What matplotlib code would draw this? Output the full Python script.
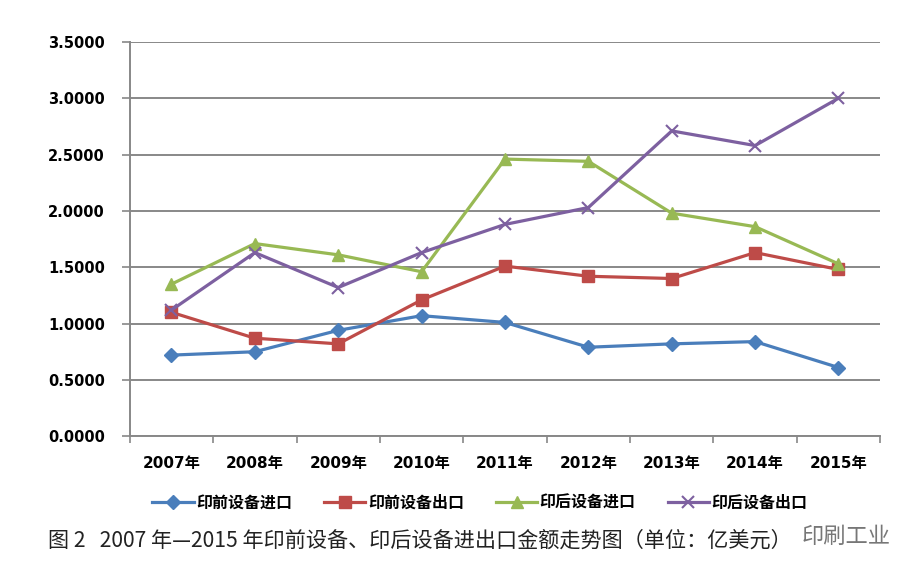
import matplotlib.pyplot as plt
import numpy as np

plt.rcParams['font.family'] = ['DejaVu Sans', 'Noto Sans CJK SC']

years = ['2007年', '2008年', '2009年', '2010年', '2011年', '2012年', '2013年', '2014年', '2015年']
pre_import = [0.72, 0.75, 0.94, 1.07, 1.01, 0.79, 0.82, 0.84, 0.61]
pre_export = [1.10, 0.87, 0.82, 1.21, 1.51, 1.42, 1.40, 1.63, 1.48]
post_import = [1.35, 1.71, 1.61, 1.46, 2.46, 2.44, 1.98, 1.86, 1.53]
post_export = [1.12, 1.63, 1.32, 1.63, 1.88, 2.03, 2.71, 2.58, 3.00]
names = ['印前设备进口', '印前设备出口', '印后设备进口', '印后设备出口']

fig = plt.figure(figsize=(9.14, 5.74), dpi=100)
ax = fig.add_axes([0.142, 0.240, 0.821, 0.687])

x = np.arange(len(years))
ax.plot(x, pre_import, color='#4a7ebb', lw=2.3, marker='D', ms=7, label=names[0])
ax.plot(x, pre_export, color='#be4b48', lw=2.3, marker='s', ms=8, label=names[1])
ax.plot(x, post_import, color='#98b954', lw=2.3, marker='^', ms=9, label=names[2])
ax.plot(x, post_export, color='#7d60a0', lw=2.3, marker='x', ms=9, mew=1.5, label=names[3])

# axes styling
ax.set_xlim(-0.5, len(years) - 0.5)
ax.set_ylim(0, 3.5)
ax.set_yticks(np.arange(0, 3.51, 0.5))
ax.set_yticklabels(['%.4f' % v for v in np.arange(0, 3.51, 0.5)], fontsize=10.5, fontweight='bold')
ax.set_xticks(x)
ax.set_xticklabels(years, fontsize=11, fontweight='bold')
ax.set_xticks(np.arange(-0.5, len(years)), minor=True)
ax.tick_params(axis='x', which='major', length=0, pad=14)
ax.tick_params(axis='x', which='minor', length=5, color='#888888', width=1.2)
ax.tick_params(axis='y', length=6, color='#888888', width=1.2, pad=12)
ax.grid(axis='y', color='#888888', lw=1.4)
ax.set_axisbelow(True)
for s in ['top', 'right']:
    ax.spines[s].set_visible(False)
for s in ['left', 'bottom']:
    ax.spines[s].set_color('#888888')
    ax.spines[s].set_linewidth(1.4)

fig.legend(loc='center', bbox_to_anchor=(0.525, 0.124), ncol=4, frameon=False,
           prop={'family': 'Noto Sans CJK SC', 'weight': 'bold', 'size': 11.5},
           handlelength=2.6, columnspacing=2.0, handletextpad=0.15)

# caption + watermark
fig.text(0.052, 0.058, '图 2   2007 年—2015 年印前设备、印后设备进出口金额走势图（单位：亿美元）',
         fontsize=15.2, family='Noto Sans CJK SC', color='#222222', va='center')
fig.text(0.877, 0.066, '印刷工业', fontsize=16, family='Noto Sans CJK SC', color='#777777',
         va='center', ha='left')

fig.savefig('out.png', dpi=100)
